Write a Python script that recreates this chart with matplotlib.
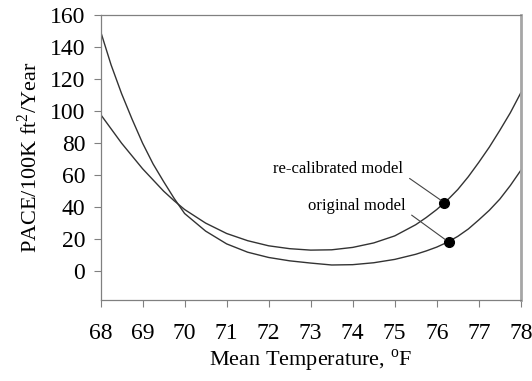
import matplotlib
matplotlib.use("Agg")
import matplotlib.pyplot as plt

# values (PACE per 100K ft2 per year)
temps = [68.0, 68.25, 68.5, 68.75, 69.0, 69.25, 69.5, 69.75, 70.0, 70.5,
         71.0, 71.5, 72.0, 72.5, 73.0, 73.5, 74.0, 74.5, 75.0, 75.5, 75.75,
         76.0, 76.25, 76.5, 76.75, 77.0, 77.25, 77.5, 77.75, 78.0]
original = [150, 129, 111, 95, 80, 67, 56, 45.5, 36, 25,
            17, 11.8, 8.5, 6.4, 5.0, 3.8, 4.0, 5.2, 7.3, 10.5, 12.6,
            15, 18, 21.7, 26.3, 32, 38, 45, 53.5, 63]
recalibrated = [98, 89, 80, 72, 64, 57, 50, 44, 38.5, 30,
                23.5, 19, 15.8, 14, 13.1, 13.3, 14.8, 17.6, 22, 29, 33.5,
                38.5, 44.3, 51, 59, 68, 77.5, 88, 99, 111.5]

# highlighted points on each curve
recal_pt = (76.18, 42.8)
orig_pt = (76.28, 18.2)

plt.rcParams['font.family'] = ['Liberation Serif', 'DejaVu Serif']
plt.rcParams['mathtext.fontset'] = 'custom'
plt.rcParams['mathtext.rm'] = 'Liberation Serif'

fig = plt.figure(figsize=(5.32, 3.81), dpi=100)
ax = fig.add_axes([0.189, 0.213, 0.790, 0.747])

ax.plot(temps, original, color="#333333", lw=1.0)
ax.plot(temps, recalibrated, color="#333333", lw=1.0)

ax.plot(*recal_pt, "o", color="black", ms=7)
ax.plot(*orig_pt, "o", color="black", ms=7)

ax.annotate("re-calibrated model", xy=recal_pt, xytext=(-29.5, 24),
            textcoords="offset points", ha="right", va="center", fontsize=12,
            arrowprops=dict(arrowstyle="-", color="#444444", lw=0.8,
                            relpos=(1, 0.2), shrinkA=3, shrinkB=3))
ax.annotate("original model", xy=orig_pt, xytext=(-31, 26),
            textcoords="offset points", ha="right", va="center", fontsize=12,
            arrowprops=dict(arrowstyle="-", color="#444444", lw=0.8,
                            relpos=(1, 0.2), shrinkA=3, shrinkB=3))

ax.set_xlim(68, 78)
ax.set_ylim(-18, 160)
ax.set_xticks(range(68, 79))
ax.set_yticks(range(0, 161, 20))
ax.tick_params(labelsize=17, length=5, color="#808080", width=0.8, pad=6)
ax.tick_params(axis="x", pad=12)

for side in ["left", "bottom", "top"]:
    ax.spines[side].set_color("#808080")
    ax.spines[side].set_linewidth(0.9)
ax.spines["right"].set_color("#a6a6a6")
ax.spines["right"].set_linewidth(2)

ax.set_xlabel("Mean Temperature, $^{\\mathrm{o}}$F", fontsize=16, labelpad=2)
ax.set_ylabel("PACE/100K ft$^{\\mathrm{2}}$/Year", fontsize=16, labelpad=6)

plt.savefig("out.png", dpi=100)
plt.clf()
